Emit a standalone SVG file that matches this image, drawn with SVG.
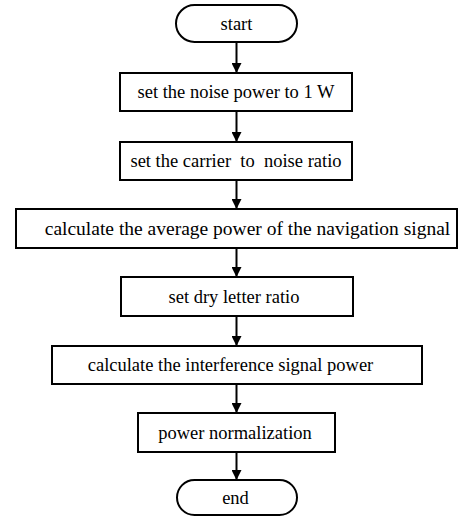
<svg xmlns="http://www.w3.org/2000/svg" width="462" height="517" viewBox="0 0 462 517">
<defs>
<style>
.b{fill:#fff;stroke:#000;stroke-width:2}
.t{font-family:"Liberation Serif","Times New Roman",serif;font-size:18.5px;fill:#000;text-anchor:middle}
.c{stroke:#000;stroke-width:2;fill:none}
</style>
<marker id="ah" viewBox="0 0 10 10" refX="10" refY="5" markerWidth="10" markerHeight="10" markerUnits="userSpaceOnUse" orient="auto">
<path d="M0,0 L10,5 L0,10 Z" fill="#000"/>
</marker>
</defs>
<rect width="462" height="517" fill="#fff"/>
<g id="connectors">
<line class="c" x1="236.5" y1="42" x2="236.5" y2="73" marker-end="url(#ah)"/>
<line class="c" x1="236.5" y1="111" x2="236.5" y2="142" marker-end="url(#ah)"/>
<line class="c" x1="236.5" y1="180" x2="236.5" y2="209" marker-end="url(#ah)"/>
<line class="c" x1="236.5" y1="248" x2="236.5" y2="277" marker-end="url(#ah)"/>
<line class="c" x1="236.5" y1="316" x2="236.5" y2="346" marker-end="url(#ah)"/>
<line class="c" x1="236.5" y1="384" x2="236.5" y2="413" marker-end="url(#ah)"/>
<line class="c" x1="236.5" y1="452" x2="236.5" y2="480" marker-end="url(#ah)"/>
</g>
<g id="start">
<rect class="b" x="176" y="5" width="121" height="37" rx="18.5" ry="18.5"/>
<text class="t" x="236.5" y="29.5">start</text>
</g>
<g id="n1">
<rect class="b" x="120" y="73" width="232" height="38"/>
<text class="t" x="236" y="98">set the noise power to 1 W</text>
</g>
<g id="n2">
<rect class="b" x="120" y="142" width="232" height="38"/>
<text class="t" x="236" y="167" xml:space="preserve">set the carrier  to  noise ratio</text>
</g>
<g id="n3">
<rect class="b" x="16" y="209" width="441" height="39"/>
<text class="t" x="247.5" y="234.5" style="font-size:19.5px">calculate the average power of the navigation signal</text>
</g>
<g id="n4">
<rect class="b" x="121" y="277" width="232" height="39"/>
<text class="t" x="234" y="302.5">set dry letter ratio</text>
</g>
<g id="n5">
<rect class="b" x="52" y="346" width="370" height="38"/>
<text class="t" x="230.5" y="371">calculate the interference signal power</text>
</g>
<g id="n6">
<rect class="b" x="138" y="413" width="197" height="39"/>
<text class="t" x="235" y="438.5">power normalization</text>
</g>
<g id="end">
<rect class="b" x="177" y="480" width="120" height="35" rx="17.5" ry="17.5"/>
<text class="t" x="235.5" y="503.5">end</text>
</g>
</svg>
